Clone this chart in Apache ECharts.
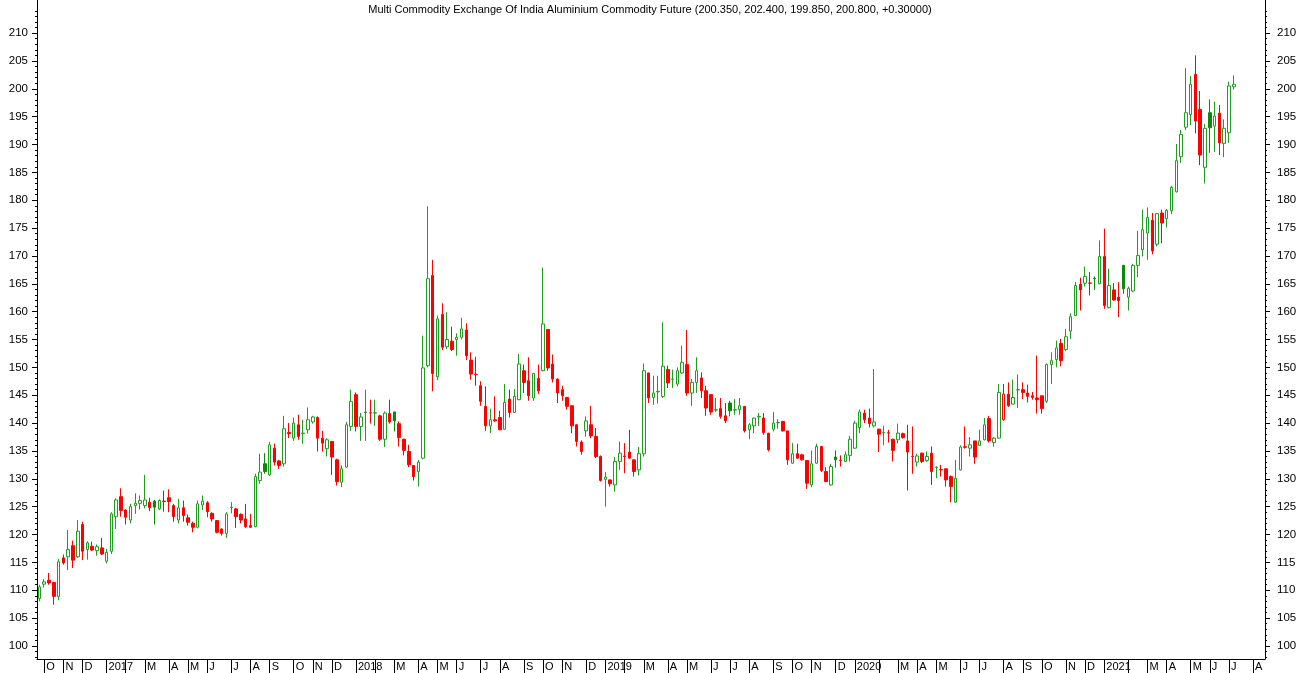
<!DOCTYPE html>
<html><head><meta charset="utf-8">
<script src="https://cdn.jsdelivr.net/npm/echarts@6/dist/echarts.min.js"></script>
<style>html,body{margin:0;padding:0;background:#fff}#c{width:1300px;height:673px}</style>
</head><body><div id="c"></div>
<script>
const titleText = "Multi Commodity Exchange Of India Aluminium Commodity Future (200.350, 202.400, 199.850, 200.800, +0.30000)";
const firstWeek = "2016-09-30";
const totalSlots = 256;
const monthLetters = ["J","F","M","A","M","J","J","A","S","O","N","D"];
const yTicks = [100,105,110,115,120,125,130,135,140,145,150,155,160,165,170,175,180,185,190,195,200,205,210];

const open = [
108.5,111.1,111.8,111.4,108.9,115.8,116.0,118.0,116.0,121.8,
117.3,117.9,117.1,117.6,115.2,117.0,123.2,126.8,124.4,122.6,
125.2,125.6,125.2,125.8,126.0,124.6,125.9,126.6,125.2,122.6,
124.8,123.0,122.0,121.3,125.3,125.7,123.8,122.5,121.0,120.2,
124.85,124.6,123.6,122.8,121.6,121.4,129.7,132.7,130.7,135.5,
133.2,132.7,138.3,137.3,139.7,138.1,138.8,140.2,141.0,137.3,
135.4,136.7,133.4,129.4,132.1,139.4,145.1,139.4,141.9,141.85,
141.8,141.3,137.1,141.7,142.0,139.9,137.1,134.9,132.4,131.3,
133.7,150.3,166.5,148.3,159.5,153.7,154.7,155.0,155.4,156.7,
151.3,148.75,146.7,143.0,139.5,140.6,141.0,138.9,144.3,141.9,
144.2,149.4,147.6,144.5,148.0,149.4,156.8,150.6,147.9,146.0,
144.6,143.1,139.7,136.6,138.6,139.7,137.6,134.0,129.9,129.8,
128.9,133.1,134.1,134.8,133.4,131.6,134.5,149.0,144.6,145.6,
144.8,149.6,147.85,147.0,149.0,150.5,145.4,147.3,148.1,145.8,
145.1,142.35,142.6,141.3,143.6,142.35,142.4,143.0,138.8,139.5,
141.1,140.9,138.2,138.9,140.05,140.3,138.6,132.8,134.5,134.3,
133.3,128.9,132.8,135.8,131.3,128.9,133.9,133.35,133.1,134.2,
135.5,139.2,141.8,140.9,139.5,138.9,138.25,138.25,137.1,137.0,
138.1,136.8,134.05,133.0,134.6,133.3,134.6,132.05,131.65,131.8,
130.4,125.8,131.6,135.75,135.5,136.8,136.0,137.0,140.8,136.5,
137.3,140.6,145.2,143.4,145.95,146.0,145.4,144.9,144.5,144.9,
143.9,150.5,151.4,154.3,153.2,156.5,159.3,164.9,165.1,165.15,
166.0,165.0,169.9,160.7,163.9,162.6,168.3,162.6,163.7,168.3,
171.1,174.1,176.4,172.1,177.7,176.7,178.1,181.5,187.8,193.1,
195.4,202.6,196.3,185.9,195.7,193.3,195.6,190.2,192.1,200.35];

const close = [
110.6,111.5,111.3,108.9,115.1,114.9,117.3,115.4,120.6,117.0,
118.5,117.2,117.8,116.5,116.8,123.7,126.2,124.3,123.1,125.0,
125.6,126.1,126.2,124.8,124.9,126.1,126.0,125.9,123.2,124.8,
123.4,122.2,121.3,125.5,126.0,124.1,122.8,120.4,120.2,123.7,
124.9,123.2,122.6,121.4,121.3,130.4,131.2,131.3,136.1,133.0,
132.4,139.0,138.1,140.0,137.6,138.2,140.6,141.1,137.3,136.4,
137.0,133.9,129.5,131.8,139.7,143.9,139.4,141.1,142.0,141.8,
141.85,137.1,141.8,140.2,140.4,137.4,135.1,132.5,130.4,133.0,
149.9,165.9,148.9,158.7,153.6,155.0,153.2,155.4,156.9,152.1,
148.8,148.7,143.9,139.5,140.6,140.4,138.8,143.7,141.9,144.8,
150.6,147.3,144.9,148.9,145.8,157.8,149.9,147.9,145.4,144.9,
143.0,139.5,136.7,134.9,140.4,137.7,134.0,129.7,130.3,129.1,
133.1,134.6,134.0,133.7,131.3,134.5,149.4,144.5,145.4,145.7,
150.2,147.2,147.9,149.4,150.9,145.4,147.3,149.4,145.8,142.7,
142.0,142.4,141.2,140.4,142.2,142.4,143.1,138.6,139.7,140.9,
141.2,138.3,135.2,140.0,140.1,138.6,133.4,134.5,133.7,133.4,
129.2,132.7,135.8,131.5,129.5,132.2,133.4,133.3,134.3,137.1,
140.0,142.0,140.6,139.9,140.2,138.0,138.3,138.2,135.1,138.2,
137.4,134.8,134.0,134.1,133.1,134.0,131.3,132.1,131.6,129.8,
128.6,130.1,135.7,135.65,136.1,133.9,136.8,139.7,136.8,137.3,
145.5,145.2,143.1,144.6,146.0,145.5,144.8,144.6,144.2,142.6,
150.5,151.2,153.5,151.2,155.5,159.1,164.7,163.9,166.3,165.1,
165.9,169.9,161.1,164.7,162.1,162.0,164.1,164.2,168.3,170.1,
174.7,176.9,170.9,177.6,175.9,178.2,182.3,187.1,191.8,195.7,
200.8,194.2,188.1,192.9,193.0,195.1,190.3,192.9,200.5,200.8];

const low = [
108.0,110.5,111.0,107.4,108.2,114.6,113.6,114.0,115.8,115.4,
115.5,117.0,116.2,116.3,114.8,116.5,121.0,123.2,121.8,122.0,
123.7,124.5,124.7,124.2,121.8,124.4,124.1,124.0,122.3,122.0,
122.3,121.6,120.4,121.1,124.4,123.1,122.3,120.2,119.8,119.4,
123.8,121.2,122.0,121.2,121.2,121.3,129.1,130.9,130.5,132.4,
131.8,132.2,137.3,136.8,137.0,136.3,138.1,139.9,134.9,134.9,
134.0,130.7,128.8,128.5,132.0,138.6,138.5,136.8,136.8,139.9,
139.5,136.8,135.7,139.9,138.5,135.8,134.2,132.1,129.7,128.6,
133.5,150.0,145.7,147.7,153.1,153.3,152.9,152.1,155.0,151.3,
147.8,146.7,143.1,138.6,138.2,140.2,138.7,138.8,141.0,141.8,
144.1,145.4,144.0,144.0,145.2,149.3,149.4,147.3,143.6,144.0,
142.4,138.2,135.8,134.3,137.6,137.3,133.7,129.5,125.0,128.6,
127.7,131.6,131.0,133.6,130.4,130.6,134.0,143.6,143.3,143.5,
144.5,146.3,146.3,146.6,148.8,144.9,143.1,145.4,144.5,141.3,
141.5,142.0,140.8,140.0,141.2,141.5,141.5,138.3,137.1,138.2,
139.5,137.9,134.9,138.5,139.0,138.5,132.5,132.7,133.6,133.3,
128.2,128.5,132.7,131.2,129.4,128.8,132.0,132.2,133.0,133.1,
135.4,138.2,140.0,139.2,139.2,134.8,136.0,136.5,133.1,136.4,
137.2,127.9,130.9,132.2,132.8,133.0,128.9,130.1,130.4,128.6,
125.8,125.7,131.5,135.4,134.0,132.7,136.0,136.9,136.5,135.8,
137.2,140.4,142.9,143.3,142.7,144.3,143.7,144.2,141.7,141.7,
143.6,147.0,150.0,150.2,152.9,155.1,159.2,160.2,164.5,162.9,
163.9,164.9,160.5,160.6,161.9,159.0,163.2,160.2,163.5,166.2,
169.9,169.3,170.3,171.7,172.3,175.1,177.5,181.4,186.7,192.6,
193.5,192.0,186.3,183.0,188.5,188.7,188.1,187.7,190.3,199.85];

const high = [
111.0,112.0,113.1,111.5,115.6,116.4,120.8,118.9,122.6,122.3,
118.8,118.7,118.2,119.4,117.4,124.0,126.5,128.3,124.5,125.5,
127.4,127.0,130.7,126.6,126.2,126.3,127.9,128.1,125.5,126.4,
126.1,123.6,122.3,126.1,127.0,126.0,124.0,122.6,121.1,124.0,
125.8,124.8,123.8,125.5,123.7,130.9,134.5,134.6,136.6,136.3,
133.4,141.3,140.0,141.0,141.5,140.6,142.8,141.3,141.2,138.6,
137.3,136.8,133.6,132.4,140.2,146.0,145.5,141.8,146.0,144.2,
144.2,141.5,142.1,144.2,142.0,140.3,137.2,136.1,132.4,133.4,
155.7,178.9,169.3,159.3,161.5,159.9,157.3,156.1,158.9,157.9,
152.7,151.9,147.5,146.6,142.6,144.8,142.2,147.0,146.0,146.1,
152.4,150.5,151.8,149.0,150.5,167.9,156.9,152.3,148.0,146.7,
144.7,143.2,139.8,136.9,141.2,143.1,139.1,134.2,131.2,129.9,
133.9,136.7,136.4,138.8,133.5,135.7,150.7,149.0,148.5,148.5,
158.1,150.3,149.6,150.0,153.9,156.7,147.9,151.8,149.1,146.7,
145.2,144.5,144.5,143.6,144.0,144.3,144.5,143.0,140.0,141.0,
141.8,141.8,138.2,142.0,140.7,140.4,138.6,136.4,136.3,134.5,
133.3,135.1,136.3,135.9,132.1,132.7,135.1,134.2,134.9,137.7,
140.4,142.4,142.4,142.6,149.7,139.0,139.5,138.8,137.2,139.9,
138.3,139.7,139.4,134.5,134.7,134.9,135.8,132.2,132.5,131.8,
130.6,133.4,136.0,139.4,137.5,136.8,138.8,140.9,141.3,137.5,
147.0,147.0,147.3,147.8,148.7,147.3,146.9,145.6,152.1,144.9,
150.7,152.7,154.8,155.1,156.9,159.7,165.3,166.1,168.1,167.1,
166.3,172.8,174.9,167.7,165.1,165.3,168.4,164.5,168.6,174.5,
178.3,178.7,177.7,177.7,178.3,178.4,182.6,190.1,192.6,203.7,
202.3,206.0,199.6,193.7,198.1,197.7,197.1,194.5,201.3,202.4];

// minor tick marks at each whole unit between the labelled ticks
const yMinorTicks = [];
for (let v = 98; v <= 215; v++) if (v % 5 !== 0) yMinorTicks.push(v);

// weekly category slots (bar dates)
const cats = [];
{
  let t = Date.parse(firstWeek + "T00:00:00Z");
  for (let i = 0; i < totalSlots; i++) { cats.push(new Date(t).toISOString().slice(0,10)); t += 7*86400000; }
}
const monthStart = cats.map((c,i) => i > 0 && c.slice(5,7) !== cats[i-1].slice(5,7));
const showLabel = i => monthStart[i] && cats[i].slice(5,7) !== "02";
const labelText = c => { const m = +c.slice(5,7); return m === 1 ? c.slice(0,4) : monthLetters[m-1]; };

const GREEN = "#1f9e1f", GREEN_FILL = "#0a8a0a", RED = "#ff0000";
const candles = open.map((o,i) => {
  const c = close[i];
  const prev = i > 0 ? close[i-1] : o;
  const up = c >= prev;
  const col = up ? GREEN : RED;
  const hollow = c > o;
  const fill = hollow ? "#ffffff" : (up ? GREEN_FILL : RED);
  const border = hollow ? col : (up ? GREEN_FILL : RED);
  return { value: [o, c, low[i], high[i]],
    itemStyle: { color: fill, color0: fill, borderColor: border, borderColor0: border, borderWidth: 1 } };
});

const font = "'Liberation Sans',Arial,sans-serif";
const yMin = 97.66, yMax = 215.93;
function yAxisFor(pos, margin) {
  return {
    type: "value", position: pos, min: yMin, max: yMax, scale: true,
    axisLine: { show: true, lineStyle: { color: "#000", width: 1 } },
    axisTick: { show: true, length: 5, customValues: yTicks, lineStyle: { color: "#000" } },
    axisLabel: { customValues: yTicks, color: "#000", fontSize: 11.5, fontFamily: font, margin: margin },
    splitLine: { show: false }
  };
}
function yMinorAxisFor(pos) {
  return {
    type: "value", position: pos, min: yMin, max: yMax, scale: true,
    axisLine: { show: false },
    axisTick: { show: true, length: 2, customValues: yMinorTicks, lineStyle: { color: "#000" } },
    axisLabel: { show: false },
    splitLine: { show: false }
  };
}

const chart = echarts.init(document.getElementById("c"), null, { renderer: "canvas" });
chart.setOption({
  animation: false,
  backgroundColor: "#ffffff",
  title: { text: titleText, left: "center", top: -1,
    textStyle: { fontSize: 11, fontWeight: "normal", color: "#000", fontFamily: font } },
  grid: { left: 37, right: 35, top: 0, bottom: 14 },
  xAxis: {
    type: "category", data: cats, boundaryGap: true,
    axisLine: { show: true, lineStyle: { color: "#000", width: 1 } },
    axisTick: { show: true, alignWithLabel: true, length: 15, interval: (i) => monthStart[i], lineStyle: { color: "#000" } },
    axisLabel: { interval: (i) => showLabel(i), formatter: (v) => labelText(v), align: "left", padding: [0,0,0,2],
      margin: 2, color: "#000", fontSize: 11, fontFamily: font },
    splitLine: { show: false }
  },
  yAxis: [ yAxisFor("left", 9), yAxisFor("right", 12), yMinorAxisFor("left"), yMinorAxisFor("right") ],
  series: [{ type: "candlestick", data: candles, barWidth: 3, yAxisIndex: 0 }]
});
</script>
</body></html>
